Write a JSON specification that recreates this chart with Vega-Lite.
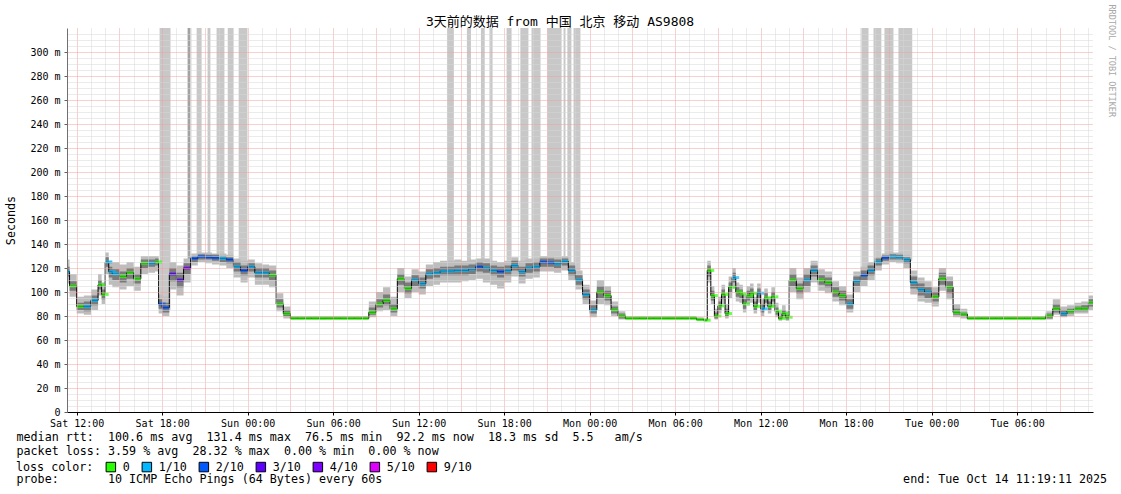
{
"$schema": "https://vega.github.io/schema/vega-lite/v6.json",
"width": 1026, "height": 384,
"autosize": {"type": "none"},
"padding": {"left": 67, "top": 28, "right": 28, "bottom": 82},
"background": "white",
"title": {"text": "3天前的数据 from 中国 北京 移动 AS9808", "anchor": "middle", "frame": "group", "dx": -20, "offset": -25, "font": "DejaVu Sans Mono, Noto Sans CJK SC", "fontSize": 13, "fontWeight": "normal", "color": "black"},
"config": {"view": {"stroke": null}, "font": "DejaVu Sans Mono"},
"datasets": {
"loss": [
{"s":"2025-10-11T17:49Z","e":"2025-10-11T18:35Z","y":85,"n":1},
{"s":"2025-10-11T19:47Z","e":"2025-10-11T19:59Z","y":121,"n":2},
{"s":"2025-10-11T20:25Z","e":"2025-10-11T20:46Z","y":130,"n":1},
{"s":"2025-10-11T21:11Z","e":"2025-10-11T21:23Z","y":130,"n":1},
{"s":"2025-10-11T21:49Z","e":"2025-10-11T22:22Z","y":130,"n":1},
{"s":"2025-10-11T22:36Z","e":"2025-10-11T23:00Z","y":128,"n":1},
{"s":"2025-10-11T23:22Z","e":"2025-10-11T23:59Z","y":124,"n":1},
{"s":"2025-10-12T13:59Z","e":"2025-10-12T14:28Z","y":124,"n":1},
{"s":"2025-10-12T15:23Z","e":"2025-10-12T15:40Z","y":124,"n":1},
{"s":"2025-10-12T16:22Z","e":"2025-10-12T16:38Z","y":124,"n":1},
{"s":"2025-10-12T16:58Z","e":"2025-10-12T17:11Z","y":124,"n":1},
{"s":"2025-10-12T18:10Z","e":"2025-10-12T18:31Z","y":126,"n":1},
{"s":"2025-10-12T19:08Z","e":"2025-10-12T19:42Z","y":125,"n":1},
{"s":"2025-10-12T19:55Z","e":"2025-10-12T20:33Z","y":126,"n":1},
{"s":"2025-10-12T21:02Z","e":"2025-10-12T22:01Z","y":127,"n":1},
{"s":"2025-10-12T22:10Z","e":"2025-10-12T22:18Z","y":127,"n":1},
{"s":"2025-10-12T22:26Z","e":"2025-10-12T22:43Z","y":125,"n":1},
{"s":"2025-10-12T22:52Z","e":"2025-10-12T23:21Z","y":118,"n":1},
{"s":"2025-10-13T19:04Z","e":"2025-10-13T19:34Z","y":118,"n":1},
{"s":"2025-10-13T19:55Z","e":"2025-10-13T20:28Z","y":124,"n":1},
{"s":"2025-10-13T20:41Z","e":"2025-10-13T21:19Z","y":128,"n":1},
{"s":"2025-10-13T21:40Z","e":"2025-10-13T22:38Z","y":126,"n":1}
],
"smoke": [
{"t":"2025-10-11T11:00Z","m":117,"lo":107,"hi":127,"a":113,"b":121,"l":"1/10"},
{"t":"2025-10-11T11:30Z","m":105,"lo":96,"hi":115,"a":101,"b":109,"l":"0"},
{"t":"2025-10-11T12:00Z","m":88,"lo":82,"hi":96,"a":85,"b":91,"l":"0"},
{"t":"2025-10-11T12:30Z","m":88,"lo":81,"hi":97,"a":84,"b":92,"l":"1/10"},
{"t":"2025-10-11T13:00Z","m":93,"lo":85,"hi":102,"a":89,"b":97,"l":"1/10"},
{"t":"2025-10-11T13:30Z","m":106,"lo":97,"hi":115,"a":102,"b":110,"l":"0"},
{"t":"2025-10-11T13:45Z","m":98,"lo":90,"hi":108,"a":94,"b":102,"l":"0"},
{"t":"2025-10-11T14:00Z","m":125,"lo":115,"hi":133,"a":121,"b":129,"l":"1/10"},
{"t":"2025-10-11T14:15Z","m":117,"lo":106,"hi":126,"a":112,"b":121,"l":"1/10"},
{"t":"2025-10-11T14:30Z","m":115,"lo":104,"hi":125,"a":110,"b":119,"l":"1/10"},
{"t":"2025-10-11T15:00Z","m":113,"lo":102,"hi":123,"a":108,"b":117,"l":"0"},
{"t":"2025-10-11T15:30Z","m":116,"lo":105,"hi":125,"a":111,"b":120,"l":"0"},
{"t":"2025-10-11T16:00Z","m":111,"lo":101,"hi":121,"a":107,"b":115,"l":"0"},
{"t":"2025-10-11T16:30Z","m":124,"lo":115,"hi":130,"a":120,"b":127,"l":"0"},
{"t":"2025-10-11T17:00Z","m":124,"lo":116,"hi":130,"a":121,"b":127,"l":"1/10"},
{"t":"2025-10-11T17:30Z","m":125,"lo":117,"hi":130,"a":122,"b":128,"l":"0"},
{"t":"2025-10-11T17:45Z","m":90,"lo":82,"hi":98,"a":86,"b":94,"l":"2/10"},
{"t":"2025-10-11T18:00Z","m":87,"lo":80,"hi":96,"a":83,"b":91,"l":"2/10"},
{"t":"2025-10-11T18:30Z","m":115,"lo":102,"hi":125,"a":109,"b":120,"l":"3/10"},
{"t":"2025-10-11T19:00Z","m":110,"lo":97,"hi":122,"a":104,"b":116,"l":"3/10"},
{"t":"2025-10-11T19:30Z","m":120,"lo":108,"hi":128,"a":115,"b":124,"l":"4/10"},
{"t":"2025-10-11T20:00Z","m":128,"lo":122,"hi":132,"a":125,"b":130,"l":"2/10"},
{"t":"2025-10-11T20:30Z","m":129.5,"lo":125,"hi":133,"a":127,"b":131.5,"l":"2/10"},
{"t":"2025-10-11T21:00Z","m":129,"lo":124,"hi":133,"a":127,"b":131,"l":"2/10"},
{"t":"2025-10-11T21:30Z","m":128.5,"lo":123,"hi":132,"a":126,"b":131,"l":"2/10"},
{"t":"2025-10-11T22:00Z","m":128,"lo":122,"hi":132,"a":125,"b":130,"l":"1/10"},
{"t":"2025-10-11T22:30Z","m":127,"lo":120,"hi":131,"a":124,"b":129,"l":"2/10"},
{"t":"2025-10-11T23:00Z","m":121,"lo":112,"hi":128,"a":117,"b":125,"l":"1/10"},
{"t":"2025-10-11T23:30Z","m":118,"lo":108,"hi":126,"a":114,"b":122,"l":"2/10"},
{"t":"2025-10-12T00:00Z","m":121,"lo":112,"hi":127,"a":117,"b":124,"l":"1/10"},
{"t":"2025-10-12T00:30Z","m":116,"lo":106,"hi":124,"a":112,"b":120,"l":"1/10"},
{"t":"2025-10-12T01:00Z","m":116,"lo":106,"hi":123,"a":112,"b":120,"l":"1/10"},
{"t":"2025-10-12T01:30Z","m":114,"lo":104,"hi":122,"a":110,"b":118,"l":"0"},
{"t":"2025-10-12T02:00Z","m":90,"lo":84,"hi":99,"a":87,"b":94,"l":"0"},
{"t":"2025-10-12T02:30Z","m":82,"lo":78,"hi":88,"a":80,"b":85,"l":"0"},
{"t":"2025-10-12T03:00Z","m":78,"lo":77,"hi":80,"a":77.5,"b":79,"l":"0"},
{"t":"2025-10-12T03:30Z","m":78,"lo":77,"hi":80,"a":77.5,"b":79,"l":"0"},
{"t":"2025-10-12T04:00Z","m":78,"lo":77,"hi":80,"a":77.5,"b":79,"l":"0"},
{"t":"2025-10-12T04:30Z","m":78,"lo":77,"hi":80,"a":77.5,"b":79,"l":"0"},
{"t":"2025-10-12T05:00Z","m":78,"lo":77,"hi":80,"a":77.5,"b":79,"l":"0"},
{"t":"2025-10-12T05:30Z","m":78,"lo":77,"hi":80,"a":77.5,"b":79,"l":"0"},
{"t":"2025-10-12T06:00Z","m":78,"lo":77,"hi":80,"a":77.5,"b":79,"l":"0"},
{"t":"2025-10-12T06:30Z","m":78,"lo":77,"hi":80,"a":77.5,"b":79,"l":"0"},
{"t":"2025-10-12T07:00Z","m":78,"lo":77,"hi":80,"a":77.5,"b":79,"l":"0"},
{"t":"2025-10-12T07:30Z","m":78,"lo":77,"hi":80,"a":77.5,"b":79,"l":"0"},
{"t":"2025-10-12T08:00Z","m":78,"lo":77,"hi":80,"a":77.5,"b":79,"l":"0"},
{"t":"2025-10-12T08:30Z","m":83,"lo":79,"hi":92,"a":81,"b":87,"l":"0"},
{"t":"2025-10-12T09:00Z","m":90,"lo":84,"hi":100,"a":87,"b":94,"l":"0"},
{"t":"2025-10-12T09:30Z","m":93,"lo":85,"hi":104,"a":89,"b":98,"l":"0"},
{"t":"2025-10-12T10:00Z","m":86,"lo":80,"hi":96,"a":83,"b":90,"l":"0"},
{"t":"2025-10-12T10:30Z","m":111,"lo":100,"hi":120,"a":106,"b":115,"l":"0"},
{"t":"2025-10-12T11:00Z","m":103,"lo":95,"hi":113,"a":99,"b":108,"l":"0"},
{"t":"2025-10-12T11:30Z","m":110,"lo":100,"hi":119,"a":105,"b":114,"l":"1/10"},
{"t":"2025-10-12T12:00Z","m":107,"lo":98,"hi":117,"a":103,"b":112,"l":"1/10"},
{"t":"2025-10-12T12:30Z","m":115,"lo":105,"hi":123,"a":111,"b":119,"l":"1/10"},
{"t":"2025-10-12T13:00Z","m":116,"lo":106,"hi":125,"a":112,"b":120,"l":"1/10"},
{"t":"2025-10-12T13:30Z","m":117.5,"lo":108,"hi":126,"a":114,"b":121,"l":"1/10"},
{"t":"2025-10-12T14:00Z","m":117.5,"lo":108,"hi":126,"a":114,"b":121,"l":"1/10"},
{"t":"2025-10-12T14:30Z","m":118,"lo":108,"hi":127,"a":114,"b":122,"l":"1/10"},
{"t":"2025-10-12T15:00Z","m":118,"lo":109,"hi":126,"a":114,"b":122,"l":"1/10"},
{"t":"2025-10-12T15:30Z","m":119,"lo":110,"hi":127,"a":115,"b":123,"l":"1/10"},
{"t":"2025-10-12T16:00Z","m":121,"lo":111,"hi":128,"a":117,"b":125,"l":"2/10"},
{"t":"2025-10-12T16:30Z","m":120,"lo":108,"hi":128,"a":116,"b":124,"l":"1/10"},
{"t":"2025-10-12T17:00Z","m":118,"lo":106,"hi":126,"a":114,"b":122,"l":"1/10"},
{"t":"2025-10-12T17:30Z","m":117,"lo":103,"hi":125,"a":112,"b":121,"l":"2/10"},
{"t":"2025-10-12T18:00Z","m":118,"lo":108,"hi":126,"a":114,"b":122,"l":"1/10"},
{"t":"2025-10-12T18:30Z","m":122,"lo":113,"hi":129,"a":118,"b":126,"l":"1/10"},
{"t":"2025-10-12T19:00Z","m":117,"lo":107,"hi":126,"a":113,"b":121,"l":"1/10"},
{"t":"2025-10-12T19:30Z","m":120,"lo":111,"hi":128,"a":116,"b":124,"l":"1/10"},
{"t":"2025-10-12T20:00Z","m":121,"lo":112,"hi":128,"a":117,"b":125,"l":"1/10"},
{"t":"2025-10-12T20:30Z","m":125,"lo":117,"hi":130,"a":121,"b":128,"l":"2/10"},
{"t":"2025-10-12T21:00Z","m":124.5,"lo":117,"hi":130,"a":121,"b":128,"l":"2/10"},
{"t":"2025-10-12T21:30Z","m":123.5,"lo":116,"hi":129,"a":120,"b":127,"l":"1/10"},
{"t":"2025-10-12T22:00Z","m":125.5,"lo":118,"hi":130,"a":122,"b":128,"l":"1/10"},
{"t":"2025-10-12T22:30Z","m":118,"lo":110,"hi":125,"a":114,"b":122,"l":"1/10"},
{"t":"2025-10-12T23:00Z","m":110,"lo":102,"hi":118,"a":106,"b":114,"l":"1/10"},
{"t":"2025-10-12T23:30Z","m":98,"lo":90,"hi":106,"a":94,"b":102,"l":"1/10"},
{"t":"2025-10-13T00:00Z","m":85,"lo":79,"hi":93,"a":82,"b":89,"l":"1/10"},
{"t":"2025-10-13T00:30Z","m":100,"lo":90,"hi":110,"a":95,"b":105,"l":"0"},
{"t":"2025-10-13T01:00Z","m":97,"lo":89,"hi":105,"a":93,"b":101,"l":"0"},
{"t":"2025-10-13T01:30Z","m":85,"lo":80,"hi":92,"a":82,"b":88,"l":"0"},
{"t":"2025-10-13T02:00Z","m":80,"lo":77,"hi":84,"a":78,"b":82,"l":"0"},
{"t":"2025-10-13T02:30Z","m":78,"lo":77,"hi":80,"a":77.5,"b":79,"l":"0"},
{"t":"2025-10-13T03:00Z","m":78,"lo":77,"hi":80,"a":77.5,"b":79,"l":"0"},
{"t":"2025-10-13T03:30Z","m":78,"lo":77,"hi":80,"a":77.5,"b":79,"l":"0"},
{"t":"2025-10-13T04:00Z","m":78,"lo":77,"hi":80,"a":77.5,"b":79,"l":"0"},
{"t":"2025-10-13T04:30Z","m":78,"lo":77,"hi":80,"a":77.5,"b":79,"l":"0"},
{"t":"2025-10-13T05:00Z","m":78,"lo":77,"hi":80,"a":77.5,"b":79,"l":"0"},
{"t":"2025-10-13T05:30Z","m":78,"lo":77,"hi":80,"a":77.5,"b":79,"l":"0"},
{"t":"2025-10-13T06:00Z","m":78,"lo":77,"hi":80,"a":77.5,"b":79,"l":"0"},
{"t":"2025-10-13T06:30Z","m":78,"lo":77,"hi":80,"a":77.5,"b":79,"l":"0"},
{"t":"2025-10-13T07:00Z","m":78,"lo":77,"hi":80,"a":77.5,"b":79,"l":"0"},
{"t":"2025-10-13T07:30Z","m":77,"lo":76,"hi":79,"a":76.5,"b":78,"l":"0"},
{"t":"2025-10-13T08:00Z","m":76.5,"lo":75.5,"hi":78,"a":76,"b":77.5,"l":"0"},
{"t":"2025-10-13T08:15Z","m":118,"lo":108,"hi":126,"a":113,"b":122,"l":"0"},
{"t":"2025-10-13T08:30Z","m":97,"lo":90,"hi":105,"a":93,"b":101,"l":"0"},
{"t":"2025-10-13T08:45Z","m":80,"lo":77,"hi":86,"a":78,"b":83,"l":"0"},
{"t":"2025-10-13T09:00Z","m":88.5,"lo":82,"hi":96,"a":85,"b":92,"l":"0"},
{"t":"2025-10-13T09:15Z","m":98,"lo":90,"hi":106,"a":94,"b":102,"l":"0"},
{"t":"2025-10-13T09:30Z","m":82,"lo":78,"hi":90,"a":80,"b":86,"l":"0"},
{"t":"2025-10-13T09:45Z","m":104,"lo":95,"hi":113,"a":100,"b":108,"l":"0"},
{"t":"2025-10-13T10:00Z","m":112,"lo":103,"hi":120,"a":108,"b":116,"l":"1/10"},
{"t":"2025-10-13T10:15Z","m":100,"lo":92,"hi":108,"a":96,"b":104,"l":"0"},
{"t":"2025-10-13T10:30Z","m":98.5,"lo":91,"hi":106,"a":95,"b":102,"l":"0"},
{"t":"2025-10-13T10:45Z","m":90,"lo":83,"hi":98,"a":86,"b":94,"l":"0"},
{"t":"2025-10-13T11:00Z","m":97,"lo":89,"hi":105,"a":93,"b":101,"l":"0"},
{"t":"2025-10-13T11:15Z","m":99,"lo":91,"hi":107,"a":95,"b":103,"l":"0"},
{"t":"2025-10-13T11:30Z","m":88,"lo":82,"hi":96,"a":85,"b":92,"l":"0"},
{"t":"2025-10-13T11:45Z","m":99,"lo":91,"hi":107,"a":95,"b":103,"l":"1/10"},
{"t":"2025-10-13T12:00Z","m":86,"lo":80,"hi":94,"a":83,"b":90,"l":"1/10"},
{"t":"2025-10-13T12:15Z","m":95,"lo":88,"hi":103,"a":91,"b":99,"l":"0"},
{"t":"2025-10-13T12:30Z","m":88,"lo":82,"hi":96,"a":85,"b":92,"l":"0"},
{"t":"2025-10-13T12:45Z","m":96,"lo":88,"hi":104,"a":92,"b":100,"l":"0"},
{"t":"2025-10-13T13:00Z","m":84,"lo":79,"hi":91,"a":81,"b":87,"l":"0"},
{"t":"2025-10-13T13:15Z","m":78,"lo":76,"hi":83,"a":77,"b":80,"l":"0"},
{"t":"2025-10-13T13:30Z","m":82,"lo":78,"hi":89,"a":80,"b":85,"l":"0"},
{"t":"2025-10-13T13:45Z","m":79,"lo":76,"hi":84,"a":77,"b":81,"l":"0"},
{"t":"2025-10-13T14:00Z","m":110,"lo":100,"hi":120,"a":105,"b":115,"l":"0"},
{"t":"2025-10-13T14:30Z","m":103,"lo":94,"hi":112,"a":99,"b":107,"l":"0"},
{"t":"2025-10-13T15:00Z","m":110,"lo":100,"hi":120,"a":105,"b":115,"l":"1/10"},
{"t":"2025-10-13T15:30Z","m":118,"lo":108,"hi":126,"a":113,"b":122,"l":"1/10"},
{"t":"2025-10-13T16:00Z","m":110,"lo":101,"hi":119,"a":106,"b":114,"l":"0"},
{"t":"2025-10-13T16:30Z","m":108,"lo":99,"hi":117,"a":104,"b":112,"l":"0"},
{"t":"2025-10-13T17:00Z","m":100,"lo":92,"hi":109,"a":96,"b":104,"l":"0"},
{"t":"2025-10-13T17:30Z","m":97,"lo":89,"hi":105,"a":93,"b":101,"l":"0"},
{"t":"2025-10-13T18:00Z","m":90,"lo":83,"hi":98,"a":86,"b":94,"l":"1/10"},
{"t":"2025-10-13T18:30Z","m":109,"lo":100,"hi":117,"a":105,"b":113,"l":"1/10"},
{"t":"2025-10-13T19:00Z","m":114,"lo":105,"hi":121,"a":110,"b":118,"l":"2/10"},
{"t":"2025-10-13T19:30Z","m":118,"lo":110,"hi":125,"a":114,"b":122,"l":"1/10"},
{"t":"2025-10-13T20:00Z","m":125,"lo":118,"hi":130,"a":122,"b":128,"l":"1/10"},
{"t":"2025-10-13T20:30Z","m":128.5,"lo":123,"hi":132,"a":126,"b":130.5,"l":"2/10"},
{"t":"2025-10-13T21:00Z","m":129.4,"lo":125,"hi":133,"a":127,"b":131.5,"l":"1/10"},
{"t":"2025-10-13T21:30Z","m":129,"lo":124,"hi":133,"a":127,"b":131,"l":"1/10"},
{"t":"2025-10-13T22:00Z","m":127,"lo":120,"hi":131,"a":124,"b":129,"l":"1/10"},
{"t":"2025-10-13T22:30Z","m":108,"lo":98,"hi":118,"a":103,"b":113,"l":"1/10"},
{"t":"2025-10-13T23:00Z","m":102,"lo":92,"hi":112,"a":97,"b":107,"l":"1/10"},
{"t":"2025-10-13T23:30Z","m":100,"lo":91,"hi":109,"a":95,"b":104,"l":"1/10"},
{"t":"2025-10-14T00:00Z","m":96,"lo":88,"hi":104,"a":92,"b":100,"l":"0"},
{"t":"2025-10-14T00:30Z","m":111,"lo":101,"hi":120,"a":106,"b":116,"l":"0"},
{"t":"2025-10-14T01:00Z","m":104,"lo":94,"hi":113,"a":99,"b":109,"l":"0"},
{"t":"2025-10-14T01:30Z","m":83,"lo":79,"hi":90,"a":81,"b":86,"l":"0"},
{"t":"2025-10-14T02:00Z","m":81.5,"lo":78,"hi":86,"a":80,"b":83,"l":"0"},
{"t":"2025-10-14T02:30Z","m":78,"lo":77,"hi":80,"a":77.5,"b":79,"l":"0"},
{"t":"2025-10-14T03:00Z","m":78,"lo":77,"hi":80,"a":77.5,"b":79,"l":"0"},
{"t":"2025-10-14T03:30Z","m":78,"lo":77,"hi":80,"a":77.5,"b":79,"l":"0"},
{"t":"2025-10-14T04:00Z","m":78,"lo":77,"hi":80,"a":77.5,"b":79,"l":"0"},
{"t":"2025-10-14T04:30Z","m":78,"lo":77,"hi":80,"a":77.5,"b":79,"l":"0"},
{"t":"2025-10-14T05:00Z","m":78,"lo":77,"hi":80,"a":77.5,"b":79,"l":"0"},
{"t":"2025-10-14T05:30Z","m":78,"lo":77,"hi":80,"a":77.5,"b":79,"l":"0"},
{"t":"2025-10-14T06:00Z","m":78,"lo":77,"hi":80,"a":77.5,"b":79,"l":"0"},
{"t":"2025-10-14T06:30Z","m":78,"lo":77,"hi":80,"a":77.5,"b":79,"l":"0"},
{"t":"2025-10-14T07:00Z","m":78,"lo":77,"hi":80,"a":77.5,"b":79,"l":"0"},
{"t":"2025-10-14T07:30Z","m":78,"lo":77,"hi":80,"a":77.5,"b":79,"l":"0"},
{"t":"2025-10-14T08:00Z","m":80,"lo":77,"hi":84,"a":78,"b":82,"l":"0"},
{"t":"2025-10-14T08:30Z","m":86,"lo":81,"hi":94,"a":83,"b":90,"l":"0"},
{"t":"2025-10-14T09:00Z","m":82,"lo":79,"hi":88,"a":80,"b":85,"l":"1/10"},
{"t":"2025-10-14T09:30Z","m":84,"lo":80,"hi":89,"a":82,"b":86,"l":"0"},
{"t":"2025-10-14T10:00Z","m":86,"lo":82,"hi":91,"a":84,"b":88,"l":"0"},
{"t":"2025-10-14T10:30Z","m":86,"lo":82,"hi":92,"a":84,"b":89,"l":"0"},
{"t":"2025-10-14T11:00Z","m":91,"lo":85,"hi":97,"a":88,"b":94,"l":"0"},
{"t":"2025-10-14T11:30Z","m":91,"lo":85,"hi":97,"a":88,"b":94,"l":"0"}
]
},
"layer": [
{
"data": {"name": "loss"},
"mark": {"type": "rect", "clip": true},
"encoding": {
"x": {"field": "s", "type": "temporal", "scale": {"type": "utc", "nice": false, "domain": [1760181551000, 1760440751000]},
"axis": {"values": [1760184000000,1760187600000,1760191200000,1760194800000,1760198400000,1760202000000,1760205600000,1760209200000,1760212800000,1760216400000,1760220000000,1760223600000,1760227200000,1760230800000,1760234400000,1760238000000,1760241600000,1760245200000,1760248800000,1760252400000,1760256000000,1760259600000,1760263200000,1760266800000,1760270400000,1760274000000,1760277600000,1760281200000,1760284800000,1760288400000,1760292000000,1760295600000,1760299200000,1760302800000,1760306400000,1760310000000,1760313600000,1760317200000,1760320800000,1760324400000,1760328000000,1760331600000,1760335200000,1760338800000,1760342400000,1760346000000,1760349600000,1760353200000,1760356800000,1760360400000,1760364000000,1760367600000,1760371200000,1760374800000,1760378400000,1760382000000,1760385600000,1760389200000,1760392800000,1760396400000,1760400000000,1760403600000,1760407200000,1760410800000,1760414400000,1760418000000,1760421600000,1760425200000,1760428800000,1760432400000,1760436000000,1760439600000],
"tickCount": 500,
"labelExpr": "utchours(datum.value) % 6 == 0 ? utcFormat(datum.value, '%a %H:%M') : ''",
"grid": true, "gridDash": [1, 1], "gridWidth": 1,
"gridColor": {"condition": {"test": "utchours(datum.value) % 3 == 0", "value": "#f0a0a0"}, "value": "#d6d6d6"},
"tickColor": {"condition": {"test": "utchours(datum.value) % 6 == 0", "value": "black"}, "value": "transparent"},
"labelFont": "DejaVu Sans Mono", "labelFontSize": 10, "labelColor": "black", "labelPadding": 3, "labelFlush": false, "labelOverlap": false,
"tickSize": 3, "domainColor": "black", "zindex": 1,
"title": ["median rtt:\u00a0\u00a0100.6 ms avg\u00a0\u00a0131.4 ms max\u00a0\u00a076.5 ms min\u00a0\u00a092.2 ms now\u00a0\u00a018.3 ms sd\u00a0\u00a05.5\u00a0\u00a0\u00a0am/s", "packet loss: 3.59 % avg\u00a0\u00a028.32 % max\u00a0\u00a00.00 % min\u00a0\u00a00.00 % now", "\u200b", "probe:\u00a0\u00a0\u00a0\u00a0\u00a0\u00a0\u00a010 ICMP Echo Pings (64 Bytes) every 60s\u00a0\u00a0\u00a0\u00a0\u00a0\u00a0\u00a0\u00a0\u00a0\u00a0\u00a0\u00a0\u00a0\u00a0\u00a0\u00a0\u00a0\u00a0\u00a0\u00a0\u00a0\u00a0\u00a0\u00a0\u00a0\u00a0\u00a0\u00a0\u00a0\u00a0\u00a0\u00a0\u00a0\u00a0\u00a0\u00a0\u00a0\u00a0\u00a0\u00a0\u00a0\u00a0\u00a0\u00a0\u00a0\u00a0\u00a0\u00a0\u00a0\u00a0\u00a0\u00a0\u00a0\u00a0\u00a0\u00a0\u00a0\u00a0\u00a0\u00a0\u00a0\u00a0\u00a0\u00a0\u00a0\u00a0\u00a0\u00a0\u00a0\u00a0\u00a0\u00a0\u00a0\u00a0end: Tue Oct 14 11:19:11 2025"],
"titleFont": "DejaVu Sans Mono", "titleFontSize": 11.7, "titleFontWeight": "normal", "titleColor": "black", "titleAlign": "left", "titleBaseline": "top", "titleX": -51, "titleY": 19, "titleLineHeight": 14.3}},
"x2": {"field": "e"},
"y": {"field": "y", "type": "quantitative", "scale": {"domain": [0, 320], "nice": false},
"axis": {"values": [0,5,10,15,20,25,30,35,40,45,50,55,60,65,70,75,80,85,90,95,100,105,110,115,120,125,130,135,140,145,150,155,160,165,170,175,180,185,190,195,200,205,210,215,220,225,230,235,240,245,250,255,260,265,270,275,280,285,290,295,300,305,310,315],
"tickCount": 500,
"labelExpr": "datum.value % 20 != 0 ? '' : (datum.value == 0 ? '0' : datum.value + ' m')",
"grid": true, "gridDash": [1, 1], "gridWidth": 1,
"gridColor": {"condition": {"test": "datum.value % 20 == 0", "value": "#f0a0a0"}, "value": "#d6d6d6"},
"tickColor": {"condition": {"test": "datum.value % 20 == 0", "value": "#606060"}, "value": "transparent"},
"labelFont": "DejaVu Sans Mono", "labelFontSize": 10, "labelColor": "black", "labelPadding": 4, "labelOverlap": false, "labelFlush": false, "tickSize": 3, "domainColor": "#707070", "zindex": 1,
"title": "Seconds", "titleFont": "DejaVu Sans Mono", "titleFontSize": 11.7, "titleFontWeight": "normal", "titleColor": "black", "titleX": -57, "titleY": 192, "titleAngle": -90, "titleAlign": "center", "titleBaseline": "middle"}},
"y2": {"datum": 320},
"fill": {"field": "n", "type": "ordinal", "scale": {"domain": [1, 2], "range": ["#c8c8c8", "#a2a2a2"]}, "legend": null}
}
},
{
"data": {"name": "smoke"},
"mark": {"type": "area", "interpolate": "step-after", "color": "#bdbdbd", "clip": true},
"encoding": {
"x": {"field": "t", "type": "temporal"},
"y": {"field": "lo", "type": "quantitative", "axis": null},
"y2": {"field": "hi"}
}
},
{
"data": {"name": "smoke"},
"mark": {"type": "area", "interpolate": "step-after", "color": "#7a7a7a", "clip": true},
"encoding": {
"x": {"field": "t", "type": "temporal"},
"y": {"field": "a", "type": "quantitative", "axis": null},
"y2": {"field": "b"}
}
},
{
"data": {"name": "smoke"},
"mark": {"type": "line", "interpolate": "step-after", "color": "black", "strokeWidth": 1, "clip": true},
"encoding": {
"x": {"field": "t", "type": "temporal"},
"y": {"field": "m", "type": "quantitative",
"axis": {"orient": "right", "labels": false, "ticks": false, "domain": false, "grid": false,
"title": "RRDTOOL / TOBI OETIKER", "titleFont": "DejaVu Sans Mono", "titleFontSize": 8.5, "titleFontWeight": "normal", "titleColor": "#a8a8a8", "titleAngle": 90, "titleX": 18, "titleY": -24, "titleAlign": "left", "titleBaseline": "middle"}}
}
},
{
"data": {"name": "smoke"},
"mark": {"type": "tick", "orient": "horizontal", "size": 7, "thickness": 3, "xOffset": 3.5, "clip": true},
"encoding": {
"x": {"field": "t", "type": "temporal"},
"y": {"field": "m", "type": "quantitative", "axis": null},
"color": {"field": "l", "type": "nominal",
"scale": {"domain": ["0", "1/10", "2/10", "3/10", "4/10", "5/10", "9/10"], "range": ["#26ff00", "#00b8ff", "#0059ff", "#5e00ff", "#7e00ff", "#dd00ff", "#ff0000"]},
"legend": {"title": "loss color:", "orient": "none", "legendX": -51, "legendY": 433, "direction": "horizontal", "titleOrient": "left",
"titleFont": "DejaVu Sans Mono", "titleFontSize": 11.7, "titleFontWeight": "normal", "titleColor": "black", "titlePadding": 11,
"labelFont": "DejaVu Sans Mono", "labelFontSize": 11.7, "labelColor": "black", "labelOffset": 6, "columnPadding": 10,
"symbolType": "square", "symbolSize": 90, "symbolStrokeColor": "black", "symbolStrokeWidth": 1, "symbolOpacity": 1, "padding": 0}}
}
}
],
"resolve": {"axis": {"y": "independent"}}
}
